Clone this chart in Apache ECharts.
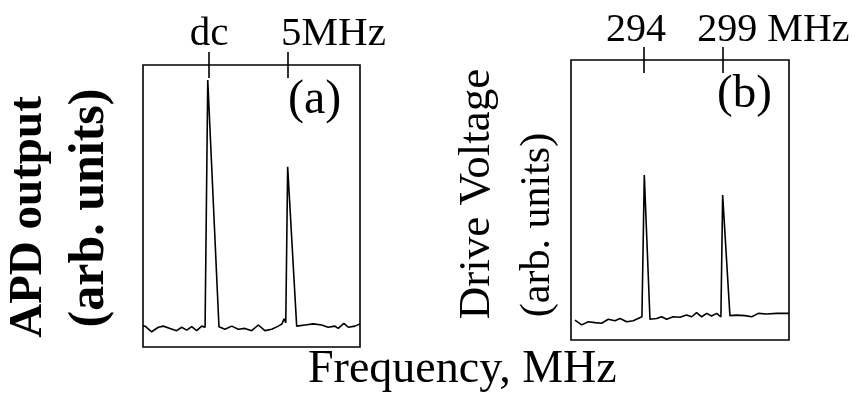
<!DOCTYPE html>
<html><head><meta charset="utf-8">
<script src="https://cdn.jsdelivr.net/npm/echarts@6/dist/echarts.min.js"></script>
<style>html,body{margin:0;padding:0;background:#fff}#c{width:860px;height:409px}</style>
</head><body><div id="c"></div>
<script>
// ---- data ----
const freqA = [-4.18,-4.05,-3.63,-3.21,-2.89,-2.47,-2.05,-1.73,-1.41,-1.10,-0.78,-0.46,-0.25,-0.08,0.63,1.01,1.44,1.85,2.28,2.70,3.12,3.54,3.97,4.39,4.62,4.75,4.86,4.98,5.55,6.08,6.60,7.13,7.54,7.97,8.18,8.54,8.82,9.24,9.56];
const ampA  = [7.4,7.4,5.4,7.0,7.4,6.6,5.8,7.0,6.0,7.2,5.8,7.4,7.0,94.7,7.2,6.3,7.4,6.3,6.6,5.8,7.8,5.8,6.3,7.4,8.2,10.0,8.6,63.9,7.4,7.8,8.2,7.8,7.0,7.4,6.6,8.4,7.0,7.4,8.2];
const freqB = [289.63,290.06,290.47,290.90,291.32,291.74,292.16,292.48,292.91,293.32,293.87,294.02,294.38,294.80,295.12,295.43,295.85,296.28,296.69,297.02,297.33,297.65,297.97,298.28,298.60,298.87,298.98,299.44,299.87,300.39,300.82,301.24,301.77,302.40,303.18];
const ampB  = [7.1,5.4,6.5,6.2,6.0,7.4,6.9,7.7,6.5,6.9,8.3,58.9,7.4,7.7,8.3,7.4,8.3,8.1,8.9,8.3,9.8,8.3,9.5,8.6,9.5,8.3,51.8,8.7,8.9,8.7,8.3,9.5,9.3,9.5,9.5];
const rangeA = [-4.18, 9.56];
const rangeB = [289.38, 303.18];
const tickValuesA = [0, 5];
const tickLabelsA = ['dc', '5MHz'];
const tickValuesB = [294, 299];
const tickLabelsB = ['294', '299 MHz'];
const panelLabels = ['(a)', '(b)'];
const yNameA = ['APD output', '(arb. units)'];
const yNameB = ['Drive Voltage', '(arb. units)'];
const xTitle = 'Frequency, MHz';

// ---- chart ----
const FONT = 'Liberation Serif';
const chart = echarts.init(document.getElementById('c'), null, {renderer: 'canvas'});

// one top axis per marked frequency (so label boxes never compete)
function topAxis(gi, range, val, text, fontSize, padLeft, padRight) {
  const rich = {
    t: {fontFamily: FONT, fontSize: fontSize, lineHeight: fontSize, color: '#000'},
    l: {width: padLeft, fontSize: fontSize, lineHeight: fontSize},
    r: {width: padRight, fontSize: fontSize, lineHeight: fontSize}
  };
  return {
    type: 'value', gridIndex: gi, position: 'top', min: range[0], max: range[1], offset: -13,
    axisLine: {show: false, onZero: false},
    axisTick: {show: true, inside: false, length: 26, customValues: [val], lineStyle: {color: '#000', width: 1.6}},
    axisLabel: {show: true, customValues: [val], margin: 23, rich: rich, color: '#000', fontFamily: FONT, hideOverlap: false,
      formatter: function () {
        return (padLeft ? '{l| }' : '') + '{t|' + text + '}' + (padRight ? '{r| }' : '');
      }},
    splitLine: {show: false}
  };
}
function yAx(gi, names, gap, richA, richB) {
  return {
    type: 'value', gridIndex: gi, min: 0, max: 100,
    axisLine: {show: false, onZero: false}, axisTick: {show: false}, axisLabel: {show: false}, splitLine: {show: false},
    name: '{a|' + names[0] + '}\n{b|' + names[1] + '}',
    nameLocation: 'middle', nameRotate: 90, nameGap: gap,
    nameTextStyle: {color: '#000', fontFamily: FONT, rich: {a: richA, b: richB}}
  };
}

const option = {
  animation: false,
  backgroundColor: '#fff',
  grid: [
    {left: 143, top: 65, width: 217, height: 282, show: true, borderColor: '#000', borderWidth: 1.6, backgroundColor: 'transparent', containLabel: false, outerBoundsMode: 'none'},
    {left: 571, top: 60, width: 218, height: 280, show: true, borderColor: '#000', borderWidth: 1.6, backgroundColor: 'transparent', containLabel: false, outerBoundsMode: 'none'}
  ],
  title: [
    {text: panelLabels[0], left: 288, top: 76, padding: 0, textStyle: {fontFamily: FONT, fontWeight: 'normal', fontSize: 48, lineHeight: 48, color: '#000'}},
    {text: panelLabels[1], left: 717, top: 71, padding: 0, textStyle: {fontFamily: FONT, fontWeight: 'normal', fontSize: 47, lineHeight: 47, color: '#000'}},
    {text: xTitle, left: 308, top: 347, padding: 0, textStyle: {fontFamily: FONT, fontWeight: 'normal', fontSize: 46, lineHeight: 46, color: '#000'}}
  ],
  xAxis: [
    topAxis(0, rangeA, tickValuesA[0], tickLabelsA[0], 41, 0, 0),
    topAxis(0, rangeA, tickValuesA[1], tickLabelsA[1], 41, 91, 0),
    topAxis(1, rangeB, tickValuesB[0], tickLabelsB[0], 40, 0, 16),
    topAxis(1, rangeB, tickValuesB[1], tickLabelsB[1], 40, 101, 0)
  ],
  yAxis: [
    yAx(0, yNameA, 22.5,
      {fontFamily: FONT, fontSize: 47, fontWeight: 'bold', lineHeight: 61, color: '#000', padding: [0, 22, 0, 0]},
      {fontFamily: FONT, fontSize: 50, fontWeight: 'bold', lineHeight: 61, color: '#000', padding: [0, 4, 0, 0]}),
    yAx(1, yNameB, 2.5,
      {fontFamily: FONT, fontSize: 45, lineHeight: 61, color: '#000', padding: [0, 0, 0, 12]},
      {fontFamily: FONT, fontSize: 42, lineHeight: 61, color: '#000', padding: [0, 50, 0, 0]})
  ],
  series: [
    {type: 'line', xAxisIndex: 0, yAxisIndex: 0, data: freqA.map((f, i) => [f, ampA[i]]), symbol: 'none', silent: true, lineStyle: {color: '#000', width: 1.6}},
    {type: 'line', xAxisIndex: 2, yAxisIndex: 1, data: freqB.map((f, i) => [f, ampB[i]]), symbol: 'none', silent: true, lineStyle: {color: '#000', width: 1.6}}
  ]
};
chart.setOption(option);
</script></body></html>
